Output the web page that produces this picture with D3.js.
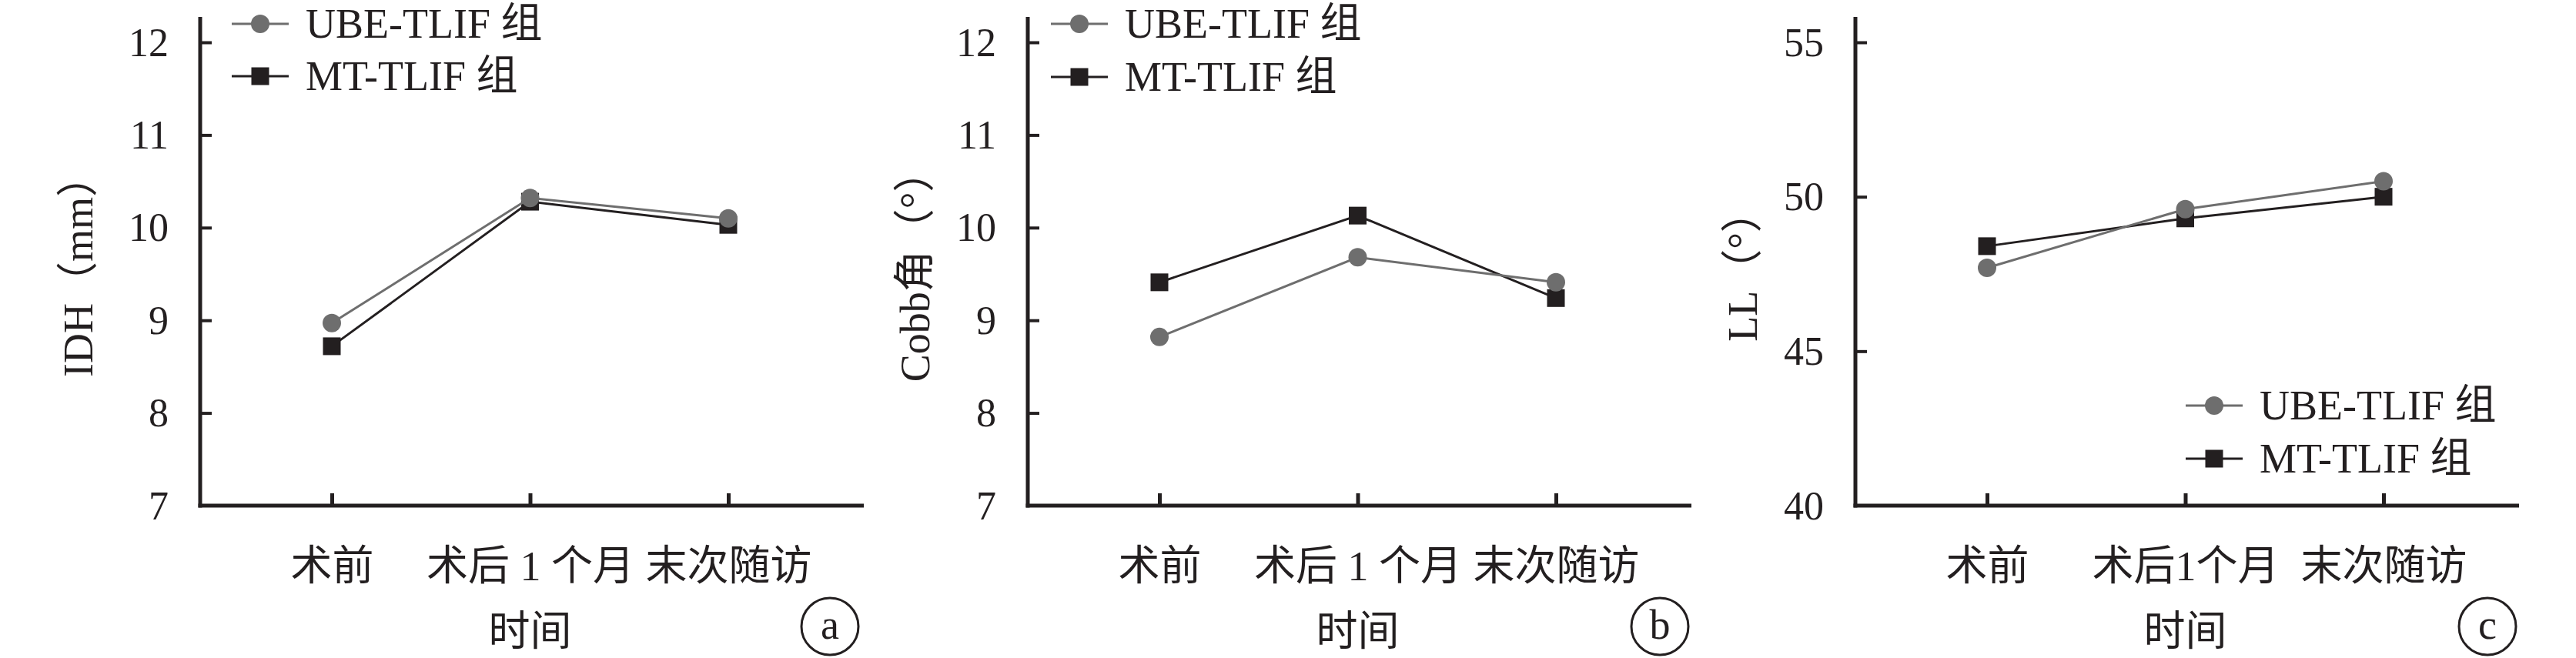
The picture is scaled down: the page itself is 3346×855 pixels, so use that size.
<!DOCTYPE html>
<html>
<head>
<meta charset="utf-8">
<script src="https://cdn.jsdelivr.net/npm/d3@7"></script>
<style>
  html, body { margin: 0; padding: 0; background: #ffffff; }
  svg { display: block; }
  text { font-family: "Liberation Serif", "Noto Sans CJK SC", serif; fill: #231f20; }
</style>
</head>
<body>
<svg id="chart" width="3346" height="855"></svg>
<script>
// ---------------- data ----------------
const seriesNames = ["UBE-TLIF 组", "MT-TLIF 组"];
const categoriesAB = ["术前", "术后 1 个月", "末次随访"];
const categoriesC = ["术前", "术后1个月", "末次随访"];
const xTitle = "时间";

const idhUBE = [8.97, 10.32, 10.10];
const idhMT = [8.72, 10.28, 10.03];
const cobbUBE = [8.82, 9.68, 9.41];
const cobbMT = [9.41, 10.13, 9.24];
const llUBE = [47.7, 49.6, 50.5];
const llMT = [48.4, 49.3, 50.0];

const ticksAB = [7, 8, 9, 10, 11, 12];
const ticksC = [40, 45, 50, 55];

const yTitles = ["IDH（mm）", "Cobb角（°）", "LL（°）"];
const panelLetters = ["a", "b", "c"];

// ---------------- layout ----------------
const GRAY = "#6e6e6e", BLACK = "#231f20";
const FS = 54, FS_TICK = 52;
const svg = d3.select("#chart");

const panels = [
  { ax: 260, cats: categoriesAB, ube: idhUBE, mt: idhMT, ticks: ticksAB, dom: [7, 12],
    yTitle: yTitles[0], yTitleX: 101, letter: panelLetters[0], letterX: 1078,
    legX: 301, legY: [31, 99] },
  { ax: 1335, cats: categoriesAB, ube: cobbUBE, mt: cobbMT, ticks: ticksAB, dom: [7, 12],
    yTitle: yTitles[1], yTitleX: 1188, letter: panelLetters[1], letterX: 2156,
    legX: 1365, legY: [31, 100] },
  { ax: 2410, cats: categoriesC, ube: llUBE, mt: llMT, ticks: ticksC, dom: [40, 55],
    yTitle: yTitles[2], yTitleX: 2263, letter: panelLetters[2], letterX: 3231,
    legX: 2839, legY: [527, 596] }
];

const axisY = 657, yTopTick = 55, axisTop = 22, xLen = 862;

panels.forEach(p => {
  const g = svg.append("g");
  const x = d3.scalePoint().domain(p.cats).range([p.ax + 171, p.ax + 686]);
  const y = d3.scaleLinear().domain(p.dom).range([axisY, yTopTick]);

  // axes lines
  g.append("line").attr("x1", p.ax).attr("x2", p.ax).attr("y1", axisTop).attr("y2", axisY + 2.5)
    .attr("stroke", BLACK).attr("stroke-width", 5);
  g.append("line").attr("x1", p.ax - 2.5).attr("x2", p.ax + xLen).attr("y1", axisY).attr("y2", axisY)
    .attr("stroke", BLACK).attr("stroke-width", 5);

  // y axis ticks via d3 axis (inward ticks)
  const yAxis = d3.axisLeft(y).tickValues(p.ticks).tickSize(-15).tickPadding(0).tickFormat(d3.format("d"));
  const ya = g.append("g").attr("transform", `translate(${p.ax},0)`).call(yAxis);
  ya.select(".domain").remove();
  ya.selectAll(".tick line").attr("stroke", BLACK).attr("stroke-width", 4)
    .filter(d => d === p.dom[0]).remove();
  ya.selectAll(".tick text").attr("x", -41).attr("dy", "0.33em")
    .style("font-size", FS_TICK + "px").style("font-family", "'Liberation Serif', serif").attr("fill", BLACK);

  // x axis ticks
  const xAxis = d3.axisBottom(x).tickSize(-16).tickPadding(0);
  const xa = g.append("g").attr("transform", `translate(0,${axisY})`).call(xAxis);
  xa.select(".domain").remove();
  xa.selectAll(".tick line").attr("stroke", BLACK).attr("stroke-width", 5);
  xa.selectAll(".tick text").attr("y", 97).attr("dy", 0)
    .style("font-size", FS + "px").attr("fill", BLACK);

  // axis titles
  g.append("text").attr("x", (p.ax + 171 + p.ax + 686) / 2).attr("y", 839)
    .attr("text-anchor", "middle").style("font-size", FS + "px").text(xTitle);
  g.append("text")
    .attr("transform", `translate(${p.yTitleX},346) rotate(-90)`)
    .attr("text-anchor", "middle").attr("dy", "0.35em")
    .style("font-size", FS + "px").text(p.yTitle);

  // panel letter
  g.append("circle").attr("cx", p.letterX).attr("cy", 814).attr("r", 37)
    .attr("fill", "none").attr("stroke", BLACK).attr("stroke-width", 3);
  g.append("text").attr("x", p.letterX).attr("y", 814).attr("dy", "0.3em")
    .attr("text-anchor", "middle").style("font-size", FS + "px").text(p.letter);

  const line = d3.line().x((d, i) => x(p.cats[i])).y(d => y(d));

  // MT series (black squares)
  g.append("path").datum(p.mt).attr("d", line).attr("fill", "none")
    .attr("stroke", BLACK).attr("stroke-width", 3);
  g.selectAll(".sq").data(p.mt).join("rect")
    .attr("x", (d, i) => x(p.cats[i]) - 11.5).attr("y", d => y(d) - 11.5)
    .attr("width", 23).attr("height", 23).attr("fill", BLACK);

  // UBE series (gray circles)
  g.append("path").datum(p.ube).attr("d", line).attr("fill", "none")
    .attr("stroke", GRAY).attr("stroke-width", 3);
  g.selectAll(".ci").data(p.ube).join("circle")
    .attr("cx", (d, i) => x(p.cats[i])).attr("cy", d => y(d)).attr("r", 12).attr("fill", GRAY);

  // legend
  const leg = [
    { name: seriesNames[0], color: GRAY, shape: "circle" },
    { name: seriesNames[1], color: BLACK, shape: "square" }
  ];
  leg.forEach((l, k) => {
    const ly = p.legY[k];
    g.append("line").attr("x1", p.legX).attr("x2", p.legX + 74).attr("y1", ly).attr("y2", ly)
      .attr("stroke", l.color).attr("stroke-width", 3);
    if (l.shape === "circle") {
      g.append("circle").attr("cx", p.legX + 37).attr("cy", ly).attr("r", 12).attr("fill", l.color);
    } else {
      g.append("rect").attr("x", p.legX + 25.5).attr("y", ly - 11.5).attr("width", 23).attr("height", 23)
        .attr("fill", l.color);
    }
    g.append("text").attr("x", p.legX + 96).attr("y", ly).attr("dy", "0.33em")
      .style("font-size", FS + "px").text(l.name);
  });
});
</script>
</body>
</html>
